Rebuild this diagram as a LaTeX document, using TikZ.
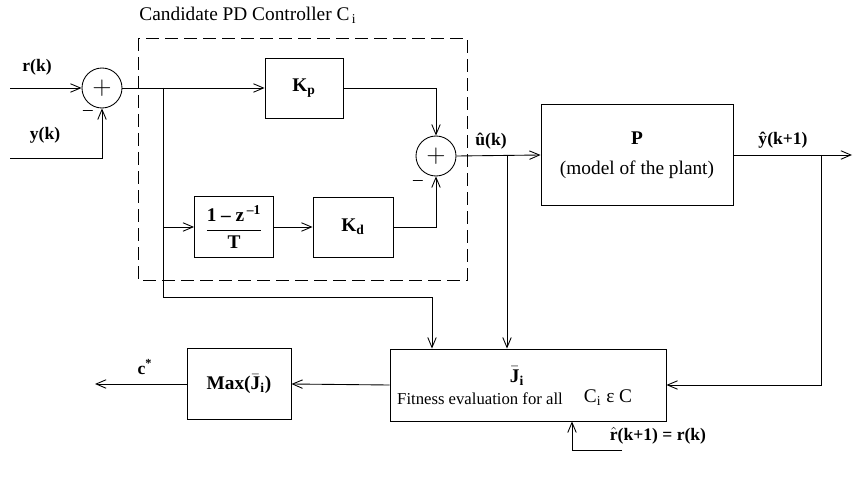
\documentclass[tikz,border=0pt]{standalone}
\usepackage{amsmath}
\usepackage{fontspec}
\setmainfont{Liberation Serif}
\usepackage{tikz}
\usetikzlibrary{arrows.meta,positioning,calc}
\tikzset{
  blk/.style={draw,inner sep=1pt,align=center},
  sumnode/.style={circle,draw,minimum size=8mm,inner sep=0pt},
  sig/.style={->,line width=0.5pt},
  siglab/.style={font=\bfseries,inner sep=1pt}
}

\begin{document}
\begin{tikzpicture}[x=0.2mm,y=-0.2mm,>={Straight Barb[length=2mm,width=1.7mm]},line width=0.5pt,font=\fontsize{11}{13}\selectfont]
  \useasboundingbox (0,0) rectangle (854,483);
  % controller
  \draw[dash pattern=on 2.6mm off 1.2mm] (138,38) rectangle (467,280);
  \node (ttl) at (248,15) {Candidate PD Controller C$_{\,\text{i}}$};
  \node[sumnode] (s1) at (102,88) {\Large$+$};
  \node[blk,minimum width=15.6mm,minimum height=12mm] (kp) at (304,88) {$\textbf{K}_{\textbf{p}}$};
  \node[blk,minimum width=15.8mm,minimum height=12.2mm] (der) at (234,227) {$\dfrac{\textbf{1 -- z}^{\,\textbf{--1}}}{\textbf{T}}$};
  \node[blk,minimum width=16mm,minimum height=12mm] (kd) at (353,227) {$\textbf{K}_{\textbf{d}}$};
  \node[sumnode] (s2) at (436,156) {\Large$+$};
  \node[blk,minimum width=38.4mm,minimum height=20.2mm] (p) at (637,155) {\textbf{P}\\[4pt](model of the plant)};
  \node[blk,minimum width=55.2mm,minimum height=14.4mm] (fit) at (528,385) {};
  \node[blk,minimum width=20.8mm,minimum height=14.2mm] (max) at (239,384) {\textbf{Max(}$\bar{\textbf{J}}_{\textbf{i}}$\textbf{)}};
  \node (jbar) at (517,376) {$\bar{\textbf{J}}_{\textbf{i}}$};
  \node[font=\fontsize{9.5}{11}\selectfont] (fitlab) at (480,399) {Fitness evaluation for all};
  \node (cset) at (608,398) {C$_{\text{i}}$ ε C};
  % free ends
  \coordinate (rin) at (10,88);
  \coordinate (yin) at (10,158);
  \coordinate (yout) at (852,155);
  \coordinate (cout) at (95,384);
  \coordinate (rh) at (622,450);
  \coordinate (b1) at (163,88);
  \coordinate (c1) at (432,297);
  \coordinate (b2) at (507,155);
  \coordinate (b3) at (821,155);
  % signals
  \draw[sig] (rin) -- (s1.west);
  \draw[sig] (yin) -| (s1.south);
  \draw[sig] (s1.east) -- (kp.west);
  \draw[sig] (b1) |- (der.west);
  \draw[sig] (der) -- (kd);
  \draw[sig] (kp.east) -| (s2.north);
  \draw[sig] (kd.east) -| (s2.south);
  \draw[sig] (s2.east) -- (p.west);
  \draw[sig] (p.east) -- (yout);
  \draw[sig] (b1) -- (b1 |- c1) -- (c1) -- (c1 |- fit.north);
  \draw[sig] (b2) -- (b2 |- fit.north);
  \draw[sig] (b3) |- (fit.east);
  \draw[sig] (rh) -| ($(fit.south)+(44,0)$);
  \draw[sig] (fit.west) -- (max.east);
  \draw[sig] (max.west) -- (cout);
  % labels
  \node[siglab] at (37,67) {r(k)};
  \node[siglab] at (45,135) {y(k)};
  \node at (88,113) {--};
  \node at (418,183) {--};
  \node[siglab] at (491,141) {û(k)};
  \node[siglab] at (783,140) {ŷ(k+1)};
  \node[siglab] at (145,367) {c$^{\textbf{*}}$};
  \node[siglab] at (658,436) {$\hat{\textbf{r}}$(k+1) = r(k)};
\end{tikzpicture}
\end{document}
